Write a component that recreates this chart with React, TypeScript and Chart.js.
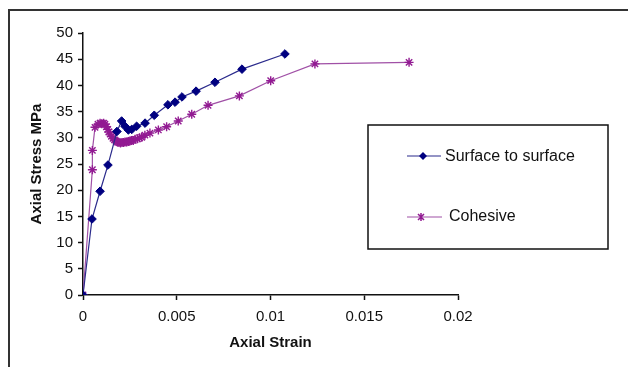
import React, { useEffect, useRef } from "react";
import { Chart, registerables } from "chart.js";

Chart.register(...registerables);

const seriesNames = ["Surface to surface", "Cohesive"];
const xTitle = "Axial Strain";
const yTitle = "Axial Stress MPa";

const surfaceStrain = [0, 0.00048, 0.00091, 0.00133, 0.00181, 0.00206, 0.00224, 0.00242, 0.0026, 0.00286, 0.00331, 0.0038, 0.00453, 0.00491, 0.00528, 0.00603, 0.00704, 0.00848, 0.01077];
const surfaceStress = [0, 14.5, 19.8, 24.8, 31.2, 33.2, 32.2, 31.5, 31.6, 32.2, 32.8, 34.3, 36.3, 36.8, 37.8, 38.9, 40.6, 43.1, 46.0];

const cohesiveStrain = [0, 0.0005, 0.0005, 0.00064, 0.0008, 0.00091, 0.001, 0.0011, 0.00117, 0.00125, 0.00132, 0.00138, 0.00145, 0.00152, 0.0016, 0.00168, 0.00176, 0.00184, 0.00192, 0.002, 0.00208, 0.00216, 0.00224, 0.00233, 0.00242, 0.0025, 0.00258, 0.00268, 0.00278, 0.0029, 0.00302, 0.00313, 0.0033, 0.00357, 0.00402, 0.00446, 0.00508, 0.0058, 0.00667, 0.00834, 0.01001, 0.01237, 0.01739];
const cohesiveStress = [0, 23.9, 27.6, 32.0, 32.6, 32.8, 32.7, 32.8, 32.6, 32.1, 31.6, 31.1, 30.7, 30.3, 29.9, 29.6, 29.4, 29.2, 29.1, 29.0, 29.1, 29.1, 29.2, 29.2, 29.3, 29.4, 29.5, 29.5, 29.7, 29.8, 30.0, 30.1, 30.5, 30.9, 31.5, 32.1, 33.2, 34.5, 36.2, 38.0, 40.9, 44.1, 44.4];

const xTicks = [0, 0.005, 0.01, 0.015, 0.02];
const xTickLabels = ["0", "0.005", "0.01", "0.015", "0.02"];
const yTicks = [0, 5, 10, 15, 20, 25, 30, 35, 40, 45, 50];

const BLUE_LINE = "#2b2b8c";
const BLUE_MARK = "#000080";
const PURPLE_LINE = "#a050a6";
const PURPLE_MARK = "#921a92";
const FONT = "'Liberation Sans', Arial, sans-serif";

function drawDiamond(ctx: CanvasRenderingContext2D, x: number, y: number, r: number, color: string) {
  ctx.beginPath();
  ctx.moveTo(x, y - r);
  ctx.lineTo(x + r, y);
  ctx.lineTo(x, y + r);
  ctx.lineTo(x - r, y);
  ctx.closePath();
  ctx.fillStyle = color;
  ctx.fill();
}

function drawStar(ctx: CanvasRenderingContext2D, x: number, y: number, r: number, color: string) {
  ctx.beginPath();
  const d = r * 0.75;
  ctx.moveTo(x - d, y - d);
  ctx.lineTo(x + d, y + d);
  ctx.moveTo(x + d, y - d);
  ctx.lineTo(x - d, y + d);
  ctx.moveTo(x, y - r);
  ctx.lineTo(x, y + r);
  ctx.strokeStyle = color;
  ctx.lineWidth = 1.5;
  ctx.stroke();
}

const framePlugin = {
  id: "frame",
  beforeDraw(chart: any) {
    const ctx = chart.ctx as CanvasRenderingContext2D;
    ctx.save();
    ctx.fillStyle = "#ffffff";
    ctx.fillRect(0, 0, chart.width, chart.height);
    ctx.strokeStyle = "#333333";
    ctx.lineWidth = 2;
    ctx.beginPath();
    ctx.moveTo(9, chart.height);
    ctx.lineTo(9, 10);
    ctx.lineTo(chart.width, 10);
    ctx.stroke();
    ctx.restore();
  },
  afterDraw(chart: any) {
    const ctx = chart.ctx as CanvasRenderingContext2D;
    ctx.save();
    ctx.strokeStyle = "#111111";
    ctx.lineWidth = 1.5;
    ctx.strokeRect(368, 125, 240, 124);
    ctx.font = `16px ${FONT}`;
    ctx.textBaseline = "middle";
    // entry 1
    ctx.strokeStyle = BLUE_LINE;
    ctx.lineWidth = 1.2;
    ctx.beginPath();
    ctx.moveTo(407, 156);
    ctx.lineTo(441, 156);
    ctx.stroke();
    drawDiamond(ctx, 423, 156, 4, BLUE_MARK);
    ctx.fillStyle = "#111111";
    ctx.fillText(chart.data.datasets[0].label, 445, 157);
    // entry 2
    ctx.strokeStyle = PURPLE_LINE;
    ctx.lineWidth = 1.2;
    ctx.beginPath();
    ctx.moveTo(407, 217);
    ctx.lineTo(442, 217);
    ctx.stroke();
    drawStar(ctx, 421, 217, 4, PURPLE_MARK);
    ctx.fillStyle = "#111111";
    ctx.fillText(chart.data.datasets[1].label, 449, 217);
    ctx.restore();
  },
};

export default function App() {
  const ref = useRef<HTMLCanvasElement | null>(null);

  useEffect(() => {
    if (!ref.current) return;
    const toPts = (xs: number[], ys: number[]) => xs.map((x, i) => ({ x, y: ys[i] }));
    const chart = new Chart(ref.current, {
      type: "line",
      data: {
        datasets: [
          {
            label: seriesNames[0],
            data: toPts(surfaceStrain, surfaceStress),
            borderColor: BLUE_LINE,
            backgroundColor: BLUE_MARK,
            borderWidth: 1.2,
            pointStyle: "rectRot",
            pointRadius: 4.3,
            pointBackgroundColor: BLUE_MARK,
            pointBorderColor: BLUE_MARK,
            pointBorderWidth: 1,
            tension: 0,
          },
          {
            label: seriesNames[1],
            data: toPts(cohesiveStrain, cohesiveStress),
            borderColor: PURPLE_LINE,
            backgroundColor: PURPLE_MARK,
            borderWidth: 1.2,
            pointStyle: "star",
            pointRadius: 4.5,
            pointBorderColor: PURPLE_MARK,
            pointBorderWidth: 1.4,
            tension: 0,
          },
        ],
      },
      options: {
        animation: false,
        responsive: false,
        devicePixelRatio: 1,
        layout: { padding: { left: 28, top: 33, right: 170, bottom: 12 } },
        plugins: { legend: { display: false }, tooltip: { enabled: false } },
        scales: {
          x: {
            type: "linear",
            min: 0,
            max: 0.02,
            afterBuildTicks: (scale: any) => {
              scale.ticks = xTicks.map((v) => ({ value: v }));
            },
            afterFit: (scale: any) => {
              scale.height = 60;
            },
            ticks: {
              callback: (v: any) => xTickLabels[xTicks.indexOf(Number(v))] ?? String(v),
              color: "#111111",
              font: { family: FONT, size: 15 },
              padding: 8,
              maxRotation: 0,
            },
            grid: { drawOnChartArea: false, drawTicks: true, tickLength: 5, color: "#111111", tickWidth: 1.5 },
            border: { display: true, color: "#111111", width: 1.5 },
            title: {
              display: true,
              text: xTitle,
              color: "#111111",
              font: { family: FONT, size: 15, weight: "bold" },
              padding: { top: 4, bottom: 3 },
            },
          },
          y: {
            type: "linear",
            min: 0,
            max: 50,
            afterBuildTicks: (scale: any) => {
              scale.ticks = yTicks.map((v) => ({ value: v }));
            },
            afterFit: (scale: any) => {
              scale.width = 55;
            },
            ticks: {
              color: "#111111",
              font: { family: FONT, size: 15 },
              padding: 5,
            },
            grid: { drawOnChartArea: false, drawTicks: true, tickLength: 5, color: "#111111", tickWidth: 1.5 },
            border: { display: true, color: "#111111", width: 1.5 },
            title: {
              display: true,
              text: yTitle,
              color: "#111111",
              font: { family: FONT, size: 15, weight: "bold" },
              padding: { top: 0, bottom: 0 },
            },
          },
        },
      },
      plugins: [framePlugin],
    } as any);
    return () => chart.destroy();
  }, []);

  return (
    <div style={{ position: "fixed", left: 0, top: 0, width: 628, height: 367, background: "#fff" }}>
      <canvas ref={ref} width={628} height={367} style={{ width: 628, height: 367, display: "block" }} />
    </div>
  );
}
